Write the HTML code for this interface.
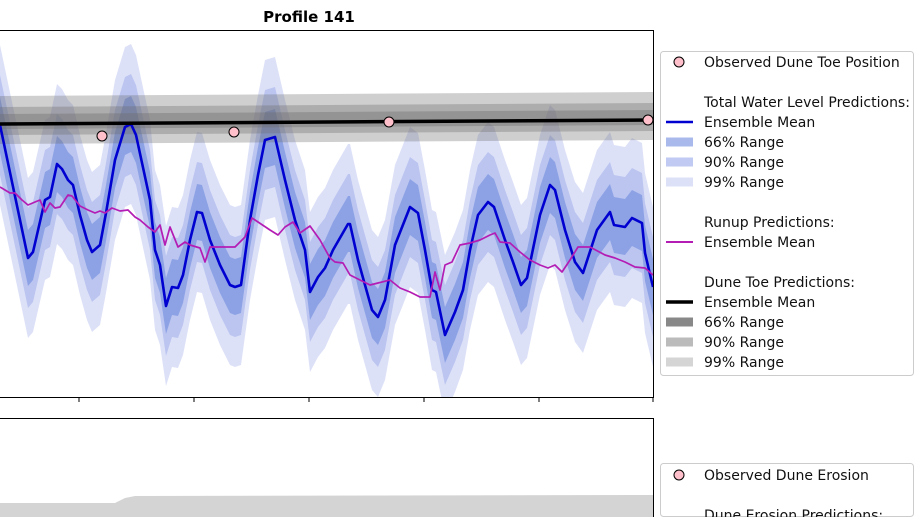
<!DOCTYPE html>
<html><head><meta charset="utf-8"><style>
html,body{margin:0;padding:0;background:#fff;width:918px;height:517px;overflow:hidden}
svg{display:block}
svg text{font-family:"DejaVu Sans","Liberation Sans",sans-serif}
</style></head><body>
<svg id="chart" width="918" height="517" xmlns="http://www.w3.org/2000/svg">
<defs><clipPath id="clipTop"><rect x="-10" y="30" width="663" height="367"/></clipPath></defs>
<text x="309" y="22" text-anchor="middle" font-size="15" font-weight="bold">Profile 141</text>
<g id="bottomPanel"></g>
<g id="topPanel"></g>
<g id="legend1"></g>
<g id="legend2"></g>
</svg>
<script>
// ---- data (x in hours, y in cm relative to datum) ----
const twlT = [0,28,33,45,50,57,62,68,73,80,87,92,100,106,115,125,131,136,150,155,160,166,172,178,183,190,197,202,210,220,230,235,241,250,258,265,275,285,295,305,310,318,325,333,348,350,358,372,378,385,395,410,418,425,432,436,445,455,463,470,478,488,494,505,513,521,527,540,550,555,565,575,583,597,610,614,625,632,642,645,653];
const twlMean = [275,142,148,200,203,236,231,220,215,185,160,148,155,187,240,273,276,265,200,150,135,94,113,112,125,160,188,187,160,135,115,113,115,180,225,260,263,220,180,150,108,123,132,150,176,176,140,90,83,100,155,193,187,150,110,108,65,88,110,150,185,198,193,160,138,115,122,185,215,210,170,138,127,170,188,175,173,182,177,147,113];
const band66 = [28]; const band90 = [50]; const band99 = [80];
const runT = [0,10,15,22,28,35,40,45,50,55,60,68,72,80,88,95,100,105,112,120,128,135,140,148,155,160,165,170,178,185,190,200,205,210,220,235,245,252,258,270,278,285,293,300,310,320,330,335,343,350,360,370,378,390,400,410,420,430,435,440,445,452,460,470,480,490,495,500,510,520,530,540,548,555,560,562,570,578,590,605,615,625,635,645,653];
const runMean = [213,207,207,200,195,198,200,188,197,192,193,205,204,194,190,187,189,187,192,189,190,183,180,173,168,175,155,173,153,158,155,152,138,153,153,153,163,182,178,170,165,173,178,167,174,160,142,138,137,125,120,115,117,120,112,108,103,103,128,110,135,138,155,157,160,165,167,158,157,148,140,135,132,135,130,128,140,153,153,145,142,138,133,132,125];
const toeT = [0,653];
const toeMean = [276,280];
const toeUp = [10,17,28]; const toeDown = [5,11,20];  // 66%, 90%, 99%
const obsT = [102,234,389,648];
const obsY = [264,268,278,280];
const xTicks = [79,194,309,424,539,653];
const erosionT = [0,115,125,135,653];
const erosionTop = [14,14,19,21,22];

// ---- scales ----
const X0=0, X1=653;
const xs = t => X0 + (t/653)*(X1-X0);
const ys = v => 400 - v;
const ys2 = v => 517 - v;
const NS='http://www.w3.org/2000/svg';
function mk(tag, attrs, parent){const e=document.createElementNS(NS,tag);for(const k in attrs)e.setAttribute(k,attrs[k]);parent.appendChild(e);return e;}
const topG=document.getElementById('topPanel');
const plot=mk('g',{'clip-path':'url(#clipTop)'},topG);



function bandPath(T,M,wu,wd){
  let up=T.map((t,i)=>xs(t)+','+ys(M[i]+wu)).join(' L');
  let dn=T.map((t,i)=>xs(t)+','+ys(M[i]-wd)).reverse().join(' L');
  return 'M'+up+' L'+dn+' Z';
}
const bands=[[band99[0],'rgb(221,225,248)','twl-band-99'],[band90[0],'rgb(187,197,240)','twl-band-90'],[band66[0],'rgb(141,162,229)','twl-band-66']];
bands.forEach(b=>{const p=mk('path',{d:bandPath(twlT,twlMean,b[0],b[0]),fill:b[1],'stroke-linejoin':'round'},plot);

});
[[2,0.33,'toe-band-99'],[1,0.35,'toe-band-90'],[0,0.4,'toe-band-66']].forEach(b=>{
 const p=mk('path',{d:bandPath(toeT,toeMean,toeUp[b[0]],toeDown[b[0]]),fill:'rgb(110,110,110)','fill-opacity':b[1]},plot);
 
 });
const line=(T,M,c,w,n)=>{const p=mk('polyline',{points:T.map((t,i)=>xs(t)+','+ys(M[i])).join(' '),fill:'none',stroke:c,'stroke-width':w,'stroke-linejoin':'round'},plot);
 
 };
line(twlT,twlMean,'#0000d0',2.6,'twl-mean-line');
line(runT,runMean,'#b41db4',1.7,'runup-mean-line');
line(toeT,toeMean,'#000',3.5,'toe-mean-line');
obsT.forEach((t,i)=>{const c=mk('circle',{cx:xs(t),cy:ys(obsY[i]),r:5,fill:'#ffc0cb',stroke:'#000','stroke-width':1},topG);
 
 });
const fr=mk('path',{d:'M-5,30.5 H653.5 V397.5 H-5',fill:'none',stroke:'#000','stroke-width':1},topG);


xTicks.forEach(t=>{const l=mk('line',{x1:xs(t),x2:xs(t),y1:397,y2:402,stroke:'#000','stroke-width':1},topG);
 
 });

// bottom panel
const bot=document.getElementById('bottomPanel');
const ef=mk('path',{d:'M'+erosionT.map((t,i)=>xs(t)+','+ys2(erosionTop[i])).join(' L')+' L653,517 L0,517 Z',fill:'#d4d4d4'},bot);


const fr2=mk('path',{d:'M-5,418.5 H653.5 V517',fill:'none',stroke:'#000','stroke-width':1},bot);



// legends
function legend(g,x,y,w,h,items){
 mk('rect',{x:x+0.5,y:y+0.5,width:w,height:h,rx:3,fill:'#fff',stroke:'#ccc'},g);
 items.forEach(it=>{
  const yy=it.y;
  if(it.k==='dot'){const c=mk('circle',{cx:679,cy:yy,r:5,fill:'#ffc0cb',stroke:'#000'},g);
   
   }
  if(it.k==='line'){const l=mk('line',{x1:666,x2:693,y1:yy,y2:yy,stroke:it.c,'stroke-width':it.w},g);
   
   }
  if(it.k==='patch'){const r=mk('rect',{x:666,y:yy-4.5,width:27,height:9,fill:it.c},g);
   
   }
  const t=mk('text',{x:704,y:yy+5,'font-size':14,fill:'#111'},g);t.textContent=it.t;
  
  
 });
}
legend(document.getElementById('legend1'),660,51,253,324,[
 {k:'dot',y:62,t:'Observed Dune Toe Position'},
 {y:102,t:'Total Water Level Predictions:'},
 {k:'line',y:122,c:'#0000d0',w:2.5,t:'Ensemble Mean'},
 {k:'patch',y:142,c:'rgb(170,185,236)',t:'66% Range'},
 {k:'patch',y:162,c:'rgb(193,202,242)',t:'90% Range'},
 {k:'patch',y:182,c:'rgb(221,225,248)',t:'99% Range'},
 {y:222,t:'Runup Predictions:'},
 {k:'line',y:242,c:'#b41db4',w:2,t:'Ensemble Mean'},
 {y:282,t:'Dune Toe Predictions:'},
 {k:'line',y:302,c:'#000',w:3.5,t:'Ensemble Mean'},
 {k:'patch',y:322,c:'#888',t:'66% Range'},
 {k:'patch',y:342,c:'#bbb',t:'90% Range'},
 {k:'patch',y:362,c:'#d5d5d5',t:'99% Range'}]);
legend(document.getElementById('legend2'),660,463,253,53,[
 {k:'dot',y:475,t:'Observed Dune Erosion'},
 {y:515,t:'Dune Erosion Predictions:'}]);
</script>
</body></html>
